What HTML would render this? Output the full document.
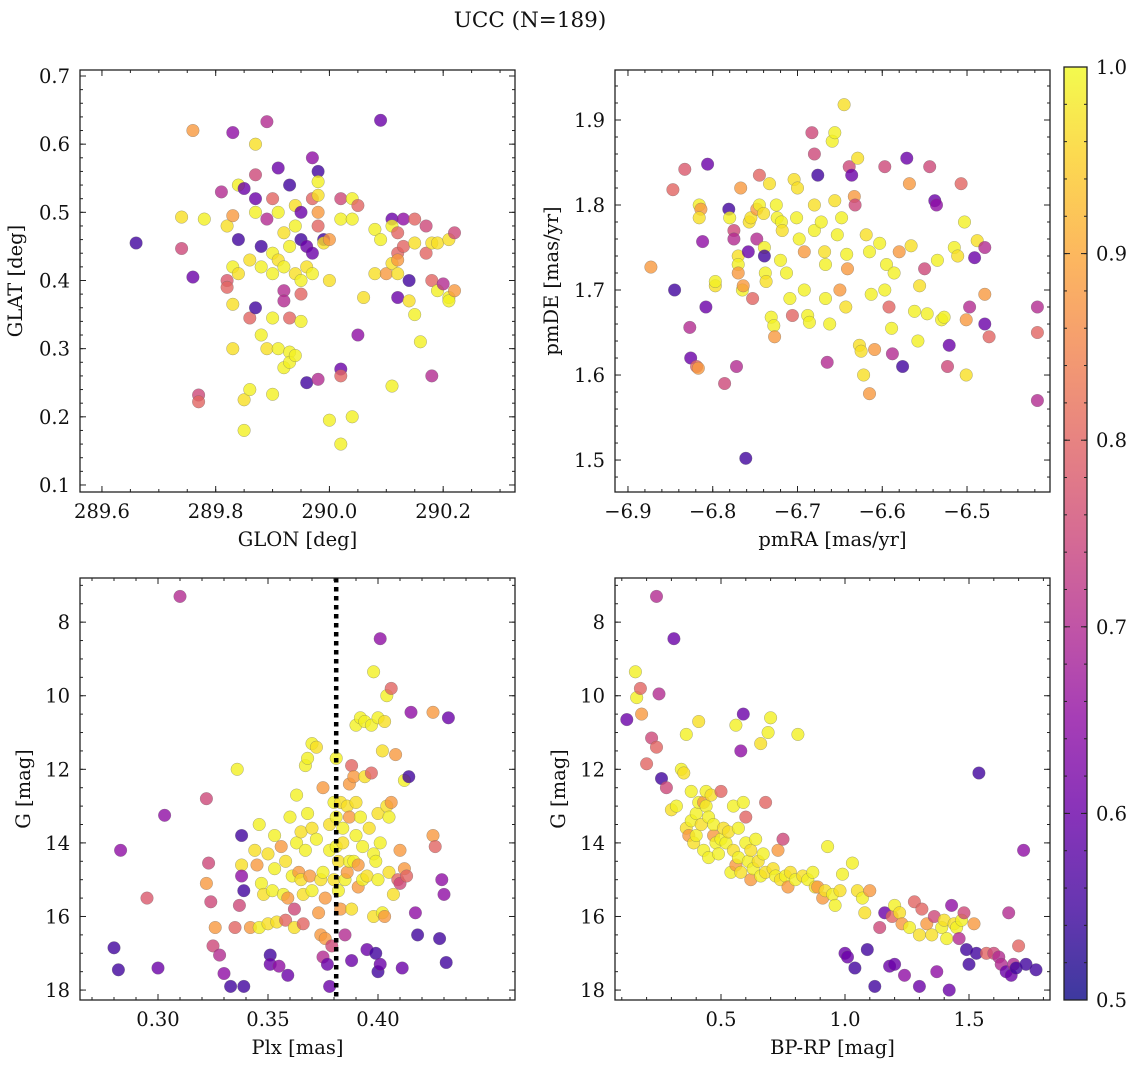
<!DOCTYPE html>
<html><head><meta charset="utf-8"><style>
html,body{margin:0;padding:0;background:#fff;}
svg text{font-family:"DejaVu Serif","Liberation Serif",serif;fill:#111;}
</style></head><body>
<svg id="fig" width="1136" height="1067" viewBox="0 0 1136 1067" xmlns="http://www.w3.org/2000/svg">
<defs>
<linearGradient id="cbgrad" x1="0" y1="1" x2="0" y2="0">
<stop offset="0" stop-color="#0d0887"/><stop offset="0.1" stop-color="#41049d"/><stop offset="0.2" stop-color="#6a00a8"/><stop offset="0.3" stop-color="#8f0da4"/><stop offset="0.4" stop-color="#b12a90"/><stop offset="0.5" stop-color="#cc4778"/><stop offset="0.6" stop-color="#e16462"/><stop offset="0.7" stop-color="#f2844b"/><stop offset="0.8" stop-color="#fca636"/><stop offset="0.9" stop-color="#fcce25"/><stop offset="1" stop-color="#f0f921"/>
</linearGradient>
</defs>
<text x="530" y="27" font-size="21.5" text-anchor="middle">UCC (N=189)</text>
</svg>
<script>
// Panel 1: GLON / GLAT / probability
const p1Glon=[289.66,289.74,289.74,289.76,289.76,289.77,289.77,289.78,289.81,289.82,289.82,289.82,289.83,289.83,289.83,289.83,289.83,289.84,289.84,289.84,289.85,289.85,289.85,289.86,289.86,289.86,289.87,289.87,289.87,289.87,289.87,289.88,289.88,289.88,289.89,289.89,289.89,289.90,289.90,289.90,289.90,289.90,289.91,289.91,289.91,289.91,289.92,289.92,289.92,289.92,289.92,289.93,289.93,289.93,289.93,289.93,289.94,289.94,289.94,289.94,289.95,289.95,289.95,289.95,289.95,289.96,289.96,289.96,289.97,289.97,289.97,289.97,289.98,289.98,289.98,289.98,289.98,289.98,289.99,289.99,290.00,290.00,290.00,290.02,290.02,290.02,290.02,290.02,290.04,290.04,290.04,290.05,290.05,290.06,290.08,290.08,290.09,290.09,290.10,290.11,290.11,290.11,290.11,290.12,290.12,290.12,290.12,290.12,290.13,290.13,290.14,290.14,290.15,290.15,290.15,290.16,290.17,290.17,290.18,290.18,290.18,290.19,290.19,290.20,290.21,290.21,290.21,290.22,290.22];
const p1Glat=[0.455,0.447,0.493,0.62,0.405,0.232,0.222,0.49,0.53,0.40,0.39,0.48,0.617,0.495,0.42,0.365,0.30,0.54,0.46,0.41,0.225,0.18,0.535,0.43,0.345,0.24,0.60,0.555,0.52,0.50,0.36,0.32,0.45,0.42,0.30,0.49,0.633,0.52,0.44,0.41,0.345,0.233,0.565,0.50,0.43,0.30,0.47,0.42,0.385,0.37,0.272,0.45,0.54,0.345,0.295,0.28,0.51,0.48,0.41,0.29,0.50,0.46,0.40,0.38,0.34,0.45,0.42,0.25,0.58,0.52,0.44,0.41,0.56,0.545,0.525,0.50,0.48,0.255,0.46,0.455,0.46,0.40,0.195,0.52,0.49,0.27,0.26,0.16,0.52,0.49,0.20,0.51,0.32,0.375,0.475,0.41,0.635,0.46,0.41,0.49,0.48,0.425,0.245,0.47,0.44,0.43,0.41,0.375,0.49,0.45,0.40,0.37,0.49,0.455,0.35,0.31,0.48,0.44,0.455,0.40,0.26,0.455,0.385,0.395,0.46,0.375,0.37,0.47,0.385];
const p1Prob=[0.55,0.75,0.97,0.88,0.6,0.75,0.8,0.99,0.7,0.78,0.8,0.97,0.65,0.88,0.99,0.97,0.97,0.99,0.55,0.97,0.97,0.99,0.6,0.97,0.8,0.99,0.97,0.75,0.6,0.99,0.55,0.99,0.55,0.99,0.97,0.7,0.7,0.8,0.99,0.99,0.99,0.99,0.6,0.99,0.97,0.99,0.97,0.99,0.7,0.7,0.99,0.99,0.55,0.8,0.99,0.99,0.97,0.99,0.97,0.99,0.6,0.55,0.99,0.8,0.99,0.6,0.97,0.55,0.65,0.8,0.6,0.99,0.55,0.99,0.97,0.88,0.8,0.7,0.55,0.97,0.88,0.97,0.99,0.75,0.99,0.6,0.8,0.99,0.99,0.99,0.99,0.8,0.65,0.97,0.99,0.97,0.6,0.99,0.88,0.6,0.99,0.97,0.99,0.8,0.8,0.88,0.97,0.6,0.65,0.8,0.55,0.97,0.8,0.97,0.99,0.99,0.75,0.8,0.97,0.8,0.7,0.97,0.99,0.7,0.97,0.99,0.99,0.75,0.88];

// Panel 2: pmRA / pmDE / probability
const p2Pmra=[-6.873,-6.847,-6.845,-6.833,-6.827,-6.826,-6.819,-6.817,-6.816,-6.814,-6.816,-6.812,-6.808,-6.806,-6.797,-6.797,-6.786,-6.781,-6.780,-6.775,-6.775,-6.772,-6.770,-6.770,-6.770,-6.767,-6.765,-6.764,-6.761,-6.758,-6.757,-6.755,-6.753,-6.748,-6.748,-6.745,-6.745,-6.740,-6.739,-6.739,-6.738,-6.737,-6.733,-6.731,-6.728,-6.727,-6.725,-6.724,-6.720,-6.719,-6.718,-6.713,-6.709,-6.706,-6.704,-6.701,-6.700,-6.698,-6.692,-6.692,-6.688,-6.686,-6.683,-6.680,-6.676,-6.680,-6.680,-6.672,-6.668,-6.667,-6.667,-6.665,-6.662,-6.659,-6.656,-6.656,-6.653,-6.650,-6.648,-6.645,-6.643,-6.642,-6.641,-6.639,-6.636,-6.633,-6.632,-6.629,-6.627,-6.625,-6.622,-6.619,-6.615,-6.613,-6.615,-6.609,-6.603,-6.597,-6.597,-6.595,-6.592,-6.589,-6.588,-6.586,-6.580,-6.576,-6.571,-6.568,-6.566,-6.562,-6.558,-6.556,-6.550,-6.547,-6.544,-6.538,-6.536,-6.535,-6.530,-6.527,-6.523,-6.521,-6.515,-6.511,-6.507,-6.503,-6.501,-6.501,-6.497,-6.491,-6.488,-6.479,-6.479,-6.474,-6.479,-6.417,-6.417,-6.417];
const p2Pmde=[1.727,1.818,1.700,1.842,1.656,1.620,1.610,1.608,1.800,1.795,1.785,1.757,1.680,1.848,1.705,1.710,1.590,1.795,1.785,1.770,1.760,1.610,1.740,1.730,1.720,1.820,1.700,1.705,1.502,1.745,1.780,1.785,1.690,1.795,1.760,1.835,1.800,1.790,1.750,1.740,1.720,1.710,1.825,1.668,1.658,1.645,1.800,1.785,1.735,1.780,1.770,1.720,1.690,1.670,1.830,1.785,1.820,1.760,1.700,1.745,1.670,1.662,1.885,1.860,1.835,1.800,1.770,1.780,1.745,1.730,1.690,1.615,1.660,1.875,1.885,1.805,1.765,1.700,1.785,1.918,1.680,1.742,1.725,1.845,1.835,1.810,1.800,1.855,1.635,1.628,1.600,1.765,1.745,1.695,1.578,1.630,1.755,1.700,1.845,1.730,1.680,1.655,1.625,1.720,1.745,1.610,1.855,1.825,1.752,1.675,1.640,1.705,1.725,1.672,1.845,1.805,1.800,1.735,1.665,1.668,1.610,1.635,1.750,1.740,1.825,1.780,1.600,1.665,1.680,1.738,1.758,1.750,1.695,1.645,1.660,1.680,1.650,1.570];
const p2Prob=[0.88,0.8,0.55,0.78,0.7,0.6,0.8,0.88,0.99,0.88,0.97,0.65,0.6,0.6,0.97,0.99,0.75,0.55,0.99,0.75,0.7,0.7,0.97,0.99,0.88,0.88,0.99,0.88,0.55,0.6,0.97,0.97,0.8,0.88,0.7,0.8,0.99,0.97,0.99,0.55,0.99,0.97,0.97,0.99,0.99,0.88,0.99,0.99,0.99,0.99,0.97,0.99,0.99,0.8,0.97,0.99,0.97,0.99,0.99,0.88,0.99,0.99,0.75,0.75,0.55,0.97,0.99,0.99,0.97,0.99,0.99,0.7,0.99,0.99,0.99,0.97,0.99,0.88,0.99,0.97,0.97,0.99,0.88,0.75,0.6,0.88,0.75,0.97,0.97,0.97,0.97,0.97,0.99,0.99,0.88,0.88,0.99,0.99,0.75,0.99,0.8,0.99,0.7,0.99,0.88,0.55,0.6,0.88,0.97,0.99,0.99,0.97,0.75,0.99,0.75,0.6,0.65,0.99,0.99,0.99,0.75,0.6,0.99,0.97,0.8,0.99,0.97,0.88,0.7,0.6,0.97,0.7,0.88,0.8,0.6,0.7,0.8,0.7];

// Panel 3: Plx / G / probability
const p3Plx=[0.280,0.282,0.283,0.295,0.300,0.303,0.310,0.322,0.323,0.322,0.324,0.325,0.326,0.328,0.330,0.333,0.335,0.336,0.337,0.338,0.338,0.338,0.339,0.339,0.342,0.344,0.345,0.346,0.346,0.347,0.348,0.350,0.350,0.351,0.351,0.352,0.353,0.353,0.354,0.355,0.356,0.357,0.358,0.358,0.359,0.359,0.360,0.361,0.362,0.362,0.363,0.363,0.364,0.365,0.365,0.366,0.366,0.367,0.367,0.368,0.368,0.369,0.370,0.370,0.370,0.372,0.372,0.373,0.374,0.374,0.375,0.375,0.375,0.376,0.376,0.377,0.378,0.378,0.378,0.379,0.380,0.380,0.381,0.381,0.381,0.382,0.382,0.383,0.383,0.384,0.384,0.385,0.385,0.386,0.386,0.387,0.387,0.387,0.388,0.388,0.388,0.389,0.389,0.390,0.390,0.390,0.391,0.391,0.392,0.392,0.393,0.393,0.394,0.394,0.395,0.395,0.396,0.397,0.397,0.398,0.398,0.398,0.399,0.399,0.400,0.400,0.400,0.400,0.401,0.401,0.401,0.402,0.402,0.403,0.403,0.404,0.404,0.405,0.405,0.406,0.406,0.407,0.408,0.409,0.410,0.410,0.411,0.412,0.412,0.413,0.414,0.415,0.417,0.418,0.425,0.425,0.426,0.428,0.429,0.430,0.431,0.432];
const p3G=[16.85,17.45,14.2,15.5,17.4,13.25,7.3,12.8,14.55,15.1,15.6,16.8,16.3,17.05,17.55,17.9,16.3,12.0,15.7,13.8,14.6,14.9,15.3,17.9,16.3,14.2,14.6,13.5,16.3,15.1,15.4,14.3,16.2,17.05,17.3,15.3,13.8,14.7,16.15,17.35,14.1,15.4,14.5,16.1,15.5,17.6,13.3,14.9,16.3,15.8,14.0,12.7,14.8,15.0,13.7,15.4,16.2,11.9,14.2,13.2,11.7,14.9,13.6,15.3,11.3,13.9,11.4,15.9,15.0,16.5,12.5,14.8,17.1,15.5,16.6,17.3,13.5,14.2,17.9,16.8,15.0,12.9,14.1,13.3,11.7,15.3,14.5,12.9,15.8,13.6,14.0,15.0,16.5,13.0,14.8,12.4,14.5,13.3,15.8,11.9,17.2,14.5,12.2,13.8,12.9,10.8,15.2,14.6,13.3,10.6,14.1,15.0,12.2,10.7,16.9,14.9,13.6,10.8,12.1,14.3,9.35,16.0,17.0,14.5,15.0,10.6,13.2,17.5,14.0,17.3,8.45,15.9,11.5,16.0,10.7,13.0,10.0,13.3,14.8,9.8,12.9,15.4,11.6,15.0,15.1,14.2,17.4,12.3,14.7,14.9,12.2,10.45,15.9,16.5,13.8,10.45,14.1,16.6,15.0,15.4,17.25,10.6];
const p3Prob=[0.55,0.55,0.65,0.78,0.6,0.65,0.7,0.75,0.75,0.88,0.75,0.75,0.88,0.7,0.65,0.55,0.8,0.99,0.75,0.55,0.97,0.65,0.55,0.55,0.88,0.97,0.88,0.99,0.99,0.99,0.97,0.97,0.97,0.55,0.6,0.99,0.99,0.99,0.97,0.65,0.88,0.99,0.97,0.8,0.88,0.6,0.99,0.99,0.97,0.75,0.99,0.99,0.88,0.97,0.97,0.97,0.8,0.99,0.99,0.99,0.99,0.88,0.97,0.99,0.99,0.99,0.97,0.88,0.97,0.88,0.88,0.99,0.7,0.88,0.88,0.6,0.97,0.99,0.6,0.75,0.97,0.99,0.99,0.99,0.99,0.99,0.97,0.97,0.88,0.99,0.97,0.99,0.7,0.97,0.88,0.88,0.99,0.88,0.97,0.8,0.6,0.99,0.88,0.99,0.97,0.99,0.88,0.88,0.99,0.99,0.99,0.99,0.97,0.99,0.6,0.97,0.97,0.99,0.8,0.99,0.99,0.97,0.55,0.99,0.99,0.99,0.97,0.55,0.99,0.6,0.65,0.99,0.97,0.88,0.97,0.97,0.99,0.99,0.97,0.8,0.88,0.97,0.88,0.8,0.75,0.88,0.6,0.99,0.88,0.8,0.55,0.65,0.65,0.55,0.88,0.88,0.8,0.55,0.65,0.65,0.55,0.6];

// Panel 4: BP-RP / G / probability
const p4Bprp=[0.12,0.155,0.16,0.175,0.18,0.2,0.22,0.24,0.24,0.25,0.26,0.28,0.30,0.31,0.32,0.34,0.35,0.36,0.36,0.37,0.38,0.38,0.39,0.40,0.40,0.41,0.41,0.42,0.43,0.43,0.44,0.44,0.45,0.45,0.46,0.47,0.47,0.48,0.49,0.50,0.50,0.51,0.52,0.53,0.54,0.55,0.55,0.56,0.56,0.57,0.57,0.58,0.58,0.59,0.59,0.60,0.60,0.61,0.62,0.62,0.63,0.64,0.65,0.66,0.66,0.67,0.68,0.68,0.69,0.70,0.71,0.72,0.73,0.74,0.75,0.76,0.77,0.78,0.80,0.81,0.83,0.85,0.87,0.88,0.89,0.91,0.92,0.93,0.95,0.96,0.98,0.99,1.00,1.01,1.03,1.04,1.05,1.07,1.08,1.09,1.10,1.12,1.14,1.16,1.18,1.19,1.20,1.20,1.22,1.23,1.24,1.26,1.28,1.30,1.30,1.31,1.33,1.35,1.36,1.37,1.39,1.40,1.41,1.42,1.43,1.44,1.45,1.46,1.47,1.48,1.49,1.50,1.52,1.53,1.54,1.57,1.60,1.62,1.63,1.65,1.66,1.67,1.68,1.69,1.70,1.72,1.73,1.77];
const p4G=[10.65,9.35,10.05,9.8,10.5,11.85,11.15,7.3,11.4,9.95,12.25,12.5,13.1,8.45,13.0,12.0,12.1,13.6,11.05,13.8,13.4,12.6,14.0,13.2,13.8,12.9,10.7,13.5,14.2,12.9,13.0,12.6,13.3,14.4,12.7,13.8,13.5,14.0,14.3,13.9,12.6,13.6,14.0,13.7,14.8,14.2,13.0,10.8,14.6,14.4,13.6,11.5,14.8,10.5,12.9,14.0,13.3,14.5,15.0,14.2,14.7,13.9,14.5,14.9,11.3,14.3,14.8,12.9,11.0,10.6,14.7,14.9,14.2,15.0,13.9,14.9,15.2,14.8,15.0,11.05,14.9,15.0,14.8,15.2,15.2,15.5,15.3,14.1,15.4,15.7,15.3,14.85,17.0,17.1,14.55,17.4,15.3,15.5,15.9,16.9,15.3,17.9,16.3,15.9,17.35,16.0,15.7,17.3,15.9,16.2,17.6,16.3,15.6,17.9,16.5,15.8,16.2,16.5,16.0,17.5,16.3,16.1,16.6,18.0,15.7,16.2,16.3,16.6,16.1,15.9,16.9,17.3,16.2,17.0,12.1,17.0,17.0,17.1,17.3,17.5,15.9,17.6,17.3,17.4,16.8,14.2,17.3,17.45];
const p4Prob=[0.6,0.99,0.99,0.8,0.88,0.8,0.75,0.7,0.8,0.7,0.55,0.75,0.97,0.6,0.99,0.99,0.97,0.97,0.99,0.88,0.99,0.99,0.97,0.99,0.99,0.99,0.97,0.97,0.99,0.88,0.99,0.99,0.99,0.99,0.97,0.88,0.99,0.99,0.99,0.99,0.8,0.97,0.99,0.97,0.99,0.97,0.99,0.99,0.88,0.99,0.99,0.65,0.97,0.6,0.99,0.99,0.8,0.99,0.88,0.97,0.99,0.99,0.97,0.99,0.97,0.99,0.97,0.8,0.99,0.99,0.97,0.99,0.88,0.97,0.75,0.99,0.88,0.97,0.99,0.99,0.97,0.99,0.99,0.97,0.88,0.88,0.97,0.99,0.99,0.99,0.97,0.99,0.6,0.6,0.99,0.55,0.97,0.99,0.97,0.55,0.88,0.55,0.75,0.6,0.6,0.8,0.99,0.6,0.97,0.88,0.65,0.99,0.8,0.6,0.97,0.8,0.88,0.97,0.75,0.65,0.99,0.97,0.99,0.6,0.65,0.97,0.99,0.7,0.99,0.75,0.55,0.55,0.88,0.55,0.55,0.8,0.75,0.7,0.7,0.6,0.7,0.6,0.7,0.55,0.8,0.65,0.55,0.55];

// Tick/label arrays
const p1XTicks=[289.6,289.8,290.0,290.2], p1XLabels=["289.6","289.8","290.0","290.2"];
const p1YTicks=[0.1,0.2,0.3,0.4,0.5,0.6,0.7], p1YLabels=["0.1","0.2","0.3","0.4","0.5","0.6","0.7"];
const p2XTicks=[-6.9,-6.8,-6.7,-6.6,-6.5], p2XLabels=["\u22126.9","\u22126.8","\u22126.7","\u22126.6","\u22126.5"];
const p2YTicks=[1.5,1.6,1.7,1.8,1.9], p2YLabels=["1.5","1.6","1.7","1.8","1.9"];
const p3XTicks=[0.30,0.35,0.40], p3XLabels=["0.30","0.35","0.40"];
const gTicks=[8,10,12,14,16,18], gLabels=["8","10","12","14","16","18"];
const p4XTicks=[0.5,1.0,1.5], p4XLabels=["0.5","1.0","1.5"];
const cbTicks=[0.5,0.6,0.7,0.8,0.9,1.0], cbLabels=["0.5","0.6","0.7","0.8","0.9","1.0"];
const plxCut=[0.381];

const FS=19.5;
const NS="http://www.w3.org/2000/svg";
const svg=document.getElementById('fig');
function mk(tag,attrs,parent){const e=document.createElementNS(NS,tag);for(const k in attrs)e.setAttribute(k,attrs[k]);(parent||svg).appendChild(e);return e;}
const plasma=[[13,8,135],[65,4,157],[106,0,168],[143,13,164],[177,42,144],[204,71,120],[225,100,98],[242,132,75],[252,166,54],[252,206,37],[240,249,33]];
function cmap(p){let t=(p-0.5)/0.5;t=Math.max(0,Math.min(1,t));const f=t*10,i=Math.min(9,Math.floor(f)),r=f-i;const a=plasma[i],b=plasma[i+1];return `rgb(${Math.round(a[0]+(b[0]-a[0])*r)},${Math.round(a[1]+(b[1]-a[1])*r)},${Math.round(a[2]+(b[2]-a[2])*r)})`;}
function scale(d0,d1,r0,r1){return v=>r0+(v-d0)/(d1-d0)*(r1-r0);}
function minorList(lo,hi,step){const out=[];const s=Math.ceil(lo/step-1e-9);for(let k=s;k*step<=hi+1e-9;k++)out.push(k*step);return out;}

function panel(cfg){
  const g=mk('g',{});
  
  
  const {L,R,T,B}=cfg;
  const sx=scale(cfg.xd[0],cfg.xd[1],L,R), sy=scale(cfg.yd[0],cfg.yd[1],T,B);
  const clipId='clip-'+cfg.name;
  const cp=mk('clipPath',{id:clipId},g);mk('rect',{x:L,y:T,width:R-L,height:B-T},cp);
  const pts=mk('g',{'clip-path':`url(#${clipId})`},g);
  
  
  for(let i=0;i<cfg.xs.length;i++){
    const c=mk('circle',{cx:sx(cfg.xs[i]).toFixed(1),cy:sy(cfg.ys[i]).toFixed(1),r:6.3,fill:cmap(cfg.ps[i]),'fill-opacity':0.8,stroke:'#666','stroke-width':0.4,'stroke-opacity':0.7},pts);
    
    
  }
  if(cfg.vline){for(const v of cfg.vline){const ln=mk('line',{x1:sx(v),x2:sx(v),y1:T,y2:B,stroke:'#000','stroke-width':4.5,'stroke-dasharray':'4.5 4.5'},pts);
    
    }}
  const frame=mk('rect',{x:L,y:T,width:R-L,height:B-T,fill:'none',stroke:'#222','stroke-width':1.3},g);
  
  
  const tk=mk('g',{stroke:'#222','stroke-width':1},g);
  const xmin=Math.min(...cfg.xd),xmax=Math.max(...cfg.xd),ymin=Math.min(...cfg.yd),ymax=Math.max(...cfg.yd);
  for(const v of minorList(xmin,xmax,cfg.xminor)){const x=sx(v);mk('line',{x1:x,x2:x,y1:B,y2:B-3},tk);mk('line',{x1:x,x2:x,y1:T,y2:T+3},tk);}
  for(const v of minorList(ymin,ymax,cfg.yminor)){const y=sy(v);mk('line',{x1:L,x2:L+3,y1:y,y2:y},tk);mk('line',{x1:R,x2:R-3,y1:y,y2:y},tk);}
  cfg.xt.forEach((v,i)=>{const x=sx(v);mk('line',{x1:x,x2:x,y1:B,y2:B-6},tk);mk('line',{x1:x,x2:x,y1:T,y2:T+6},tk);
    const t=mk('text',{x:x,y:B+26,'font-size':FS,'text-anchor':'middle'},g);t.textContent=cfg.xl[i];
    
    });
  cfg.yt.forEach((v,i)=>{const y=sy(v);mk('line',{x1:L,x2:L+6,y1:y,y2:y},tk);mk('line',{x1:R,x2:R-6,y1:y,y2:y},tk);
    const t=mk('text',{x:L-10,y:y+7,'font-size':FS,'text-anchor':'end'},g);t.textContent=cfg.yl[i];
    
    });
  const xt=mk('text',{x:(L+R)/2,y:B+54,'font-size':FS,'text-anchor':'middle'},g);xt.textContent=cfg.xlab;
  
  
  const yx=L-cfg.ylabOff, yy=(T+B)/2;
  const yt=mk('text',{x:yx,y:yy,'font-size':FS,'text-anchor':'middle',transform:`rotate(-90 ${yx} ${yy})`},g);yt.textContent=cfg.ylab;
  
  
}

panel({name:'glon-glat-panel',L:80,R:515,T:70,B:492,xd:[289.5614,290.3263],yd:[0.7088,0.0897],xs:p1Glon,ys:p1Glat,ps:p1Prob,xt:p1XTicks,xl:p1XLabels,yt:p1YTicks,yl:p1YLabels,xminor:0.05,yminor:0.02,xlab:'GLON [deg]',ylab:'GLAT [deg]',ylabOff:58});
panel({name:'propermotion-panel',L:615,R:1050,T:70,B:492,xd:[-6.9153,-6.4021],yd:[1.9588,1.4624],xs:p2Pmra,ys:p2Pmde,ps:p2Prob,xt:p2XTicks,xl:p2XLabels,yt:p2YTicks,yl:p2YLabels,xminor:0.02,yminor:0.02,xlab:'pmRA [mas/yr]',ylab:'pmDE [mas/yr]',ylabOff:57});
panel({name:'plx-g-panel',L:80,R:515,T:578,B:1000,xd:[0.26455,0.46227],yd:[6.80,18.27],xs:p3Plx,ys:p3G,ps:p3Prob,xt:p3XTicks,xl:p3XLabels,yt:gTicks,yl:gLabels,xminor:0.01,yminor:0.5,xlab:'Plx [mas]',ylab:'G [mag]',ylabOff:50,vline:plxCut});
panel({name:'cmd-panel',L:615,R:1050,T:578,B:1000,xd:[0.0726,1.8266],yd:[6.80,18.27],xs:p4Bprp,ys:p4G,ps:p4Prob,xt:p4XTicks,xl:p4XLabels,yt:gTicks,yl:gLabels,xminor:0.1,yminor:0.5,xlab:'BP-RP [mag]',ylab:'G [mag]',ylabOff:50});

// Colorbar
const cb=mk('g',{});


mk('rect',{x:1064,y:67,width:23,height:933,fill:'url(#cbgrad)','fill-opacity':0.8},cb);
mk('rect',{x:1064,y:67,width:23,height:933,fill:'none',stroke:'#222','stroke-width':1.3},cb);
const cy=scale(0.5,1.0,1000,67);
for(const v of minorList(0.5,1.0,0.02)){mk('line',{x1:1087,x2:1084,y1:cy(v),y2:cy(v),stroke:'#222','stroke-width':1},cb);mk('line',{x1:1064,x2:1067,y1:cy(v),y2:cy(v),stroke:'#222','stroke-width':1},cb);}
cbTicks.forEach((v,i)=>{const y=cy(v);mk('line',{x1:1087,x2:1081,y1:y,y2:y,stroke:'#222','stroke-width':1},cb);mk('line',{x1:1064,x2:1070,y1:y,y2:y,stroke:'#222','stroke-width':1},cb);
  const t=mk('text',{x:1096,y:y+7,'font-size':FS},cb);t.textContent=cbLabels[i];
  
  });
</script>
</body></html>
